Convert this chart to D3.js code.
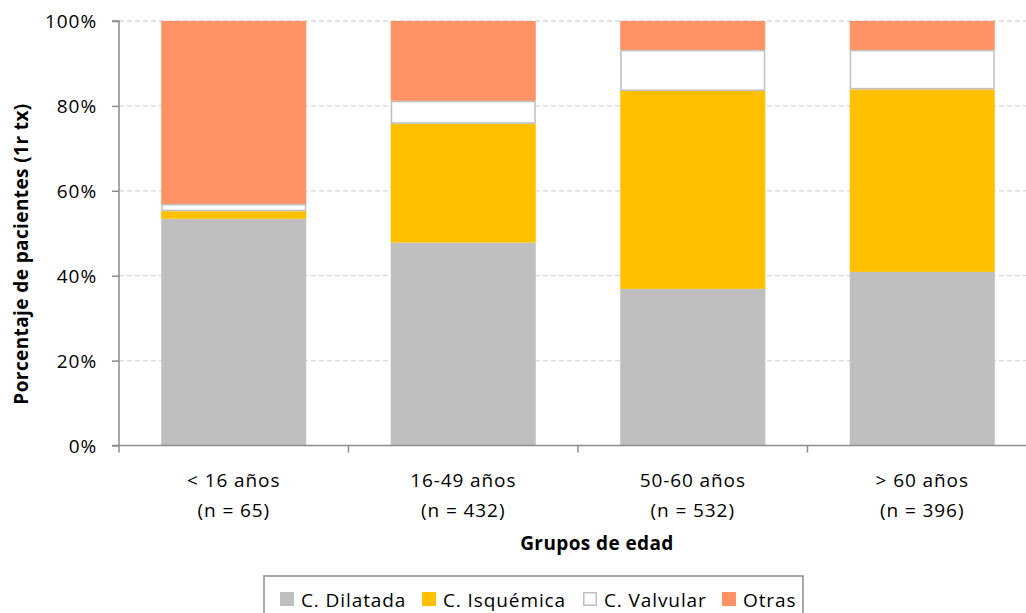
<!DOCTYPE html>
<html><head><meta charset="utf-8">
<script src="https://cdn.jsdelivr.net/npm/d3@7"></script>
<style>
html,body{margin:0;padding:0;background:#fff;}
text{font-family:"Open Sans",sans-serif;fill:#000;}
</style></head>
<body><svg id="c" width="1026" height="613"></svg>
<script>
const categories = ["< 16 años", "16-49 años", "50-60 años", "> 60 años"];
const nLabels = ["(n = 65)", "(n = 432)", "(n = 532)", "(n = 396)"];
const seriesNames = ["C. Dilatada", "C. Isquémica", "C. Valvular", "Otras"];
const dilatada = [53.4, 47.8, 36.9, 40.9];
const isquemica = [1.8, 28.0, 46.6, 43.0];
const valvular = [1.7, 5.4, 9.7, 9.3];
const otras = [43.1, 18.8, 6.8, 6.8];
const yTicks = [0, 20, 40, 60, 80, 100];

(function () {
const colors = ["#bfbfbf", "#ffc000", "#ffffff", "#ff9366"];
const keys = ["dil", "isq", "val", "otr"];
const rows = categories.map((c, i) => ({cat: c, dil: dilatada[i], isq: isquemica[i], val: valvular[i], otr: otras[i]}));
const stacked = d3.stack().keys(keys)(rows);

const svg = d3.select("#c");
const pL = 119, pR = 1037, pT = 21, pB = 445.5;
const x = d3.scaleBand().domain(categories).range([pL, pR]).paddingInner(0.368).paddingOuter(0.184);
const y = d3.scaleLinear().domain([0, 100]).range([pB, pT]);
const step = x.step();

// gridlines
svg.append("g").selectAll("line").data(yTicks.filter(d => d > 0)).join("line")
  .attr("x1", pL).attr("x2", 1026).attr("y1", d => y(d)).attr("y2", d => y(d))
  .attr("stroke", "#d9d9d9").attr("stroke-width", 1.3).attr("stroke-dasharray", "5,3");

// bars
const g = svg.append("g");
stacked.forEach((s, si) => {
  const ins = si === 2 ? 0.75 : 0;
  g.append("g").selectAll("rect").data(s).join("rect")
    .attr("x", d => x(d.data.cat) + ins)
    .attr("width", x.bandwidth() - 2 * ins)
    .attr("y", d => y(d[1]) + ins)
    .attr("height", d => y(d[0]) - y(d[1]) - 2 * ins)
    .attr("fill", colors[si])
    .attr("stroke", si === 2 ? "#bfbfbf" : "none")
    .attr("stroke-width", 1.5);
});

// y axis
const yAxis = d3.axisLeft(y).tickValues(yTicks).tickFormat(d => d + "%").tickSize(7).tickPadding(15);
const ya = svg.append("g").attr("transform", `translate(${pL},0)`).call(yAxis);
ya.select(".domain").attr("stroke", "#8c8c8c").attr("stroke-width", 1.5).attr("d", `M-7,${pT}H0V${pB + 7}`);
ya.selectAll(".tick line").attr("stroke", "#8c8c8c").attr("stroke-width", 1.5);
ya.selectAll(".tick text").attr("font-family", "Open Sans").attr("font-size", 19).attr("letter-spacing", "0.9px").attr("dy", "0.36em").attr("fill", "#000");

// x axis
const xa = svg.append("g");
xa.append("line").attr("x1", pL - 7).attr("x2", 1026).attr("y1", pB).attr("y2", pB)
  .attr("stroke", "#8c8c8c").attr("stroke-width", 1.5);
xa.selectAll("line.t").data(categories).join("line").attr("class", "t")
  .attr("x1", d => x(d) + x.bandwidth() / 2 + step / 2).attr("x2", d => x(d) + x.bandwidth() / 2 + step / 2)
  .attr("y1", pB).attr("y2", pB + 7).attr("stroke", "#8c8c8c").attr("stroke-width", 1.5);
xa.selectAll("text.l1").data(categories).join("text").attr("class", "l1")
  .attr("x", d => x(d) + x.bandwidth() / 2).attr("y", 487)
  .attr("text-anchor", "middle").attr("font-size", 19).attr("letter-spacing", "0.9px").text(d => d);
xa.selectAll("text.l2").data(nLabels).join("text").attr("class", "l2")
  .attr("x", (d, i) => x(categories[i]) + x.bandwidth() / 2).attr("y", 517)
  .attr("text-anchor", "middle").attr("font-size", 19).attr("letter-spacing", "0.9px").text(d => d);

// axis titles
svg.append("text").attr("x", 597).attr("y", 550).attr("text-anchor", "middle")
  .attr("font-size", 19).attr("font-weight", "bold").attr("letter-spacing", "0.4px").text("Grupos de edad");
svg.append("text").attr("transform", "translate(28,254) rotate(-90)").attr("text-anchor", "middle")
  .attr("font-size", 19).attr("font-weight", "bold").attr("letter-spacing", "0.4px").text("Porcentaje de pacientes (1r tx)");

// legend
const legX = [280, 422, 583, 722];
const lg = svg.append("g");
lg.append("rect").attr("x", 264).attr("y", 576).attr("width", 539).attr("height", 60)
  .attr("fill", "#fff").attr("stroke", "#8c8c8c").attr("stroke-width", 1.5);
seriesNames.forEach((n, i) => {
  const ins = i === 2 ? 0.75 : 0;
  lg.append("rect").attr("x", legX[i] + ins).attr("y", 592 + ins)
    .attr("width", 14 - 2 * ins).attr("height", 14 - 2 * ins)
    .attr("fill", colors[i]).attr("stroke", i === 2 ? "#bfbfbf" : "none").attr("stroke-width", 1.5);
  lg.append("text").attr("x", legX[i] + 21).attr("y", 607).attr("font-size", 19).attr("letter-spacing", "0.9px").text(n);
});
})();
</script></body></html>
